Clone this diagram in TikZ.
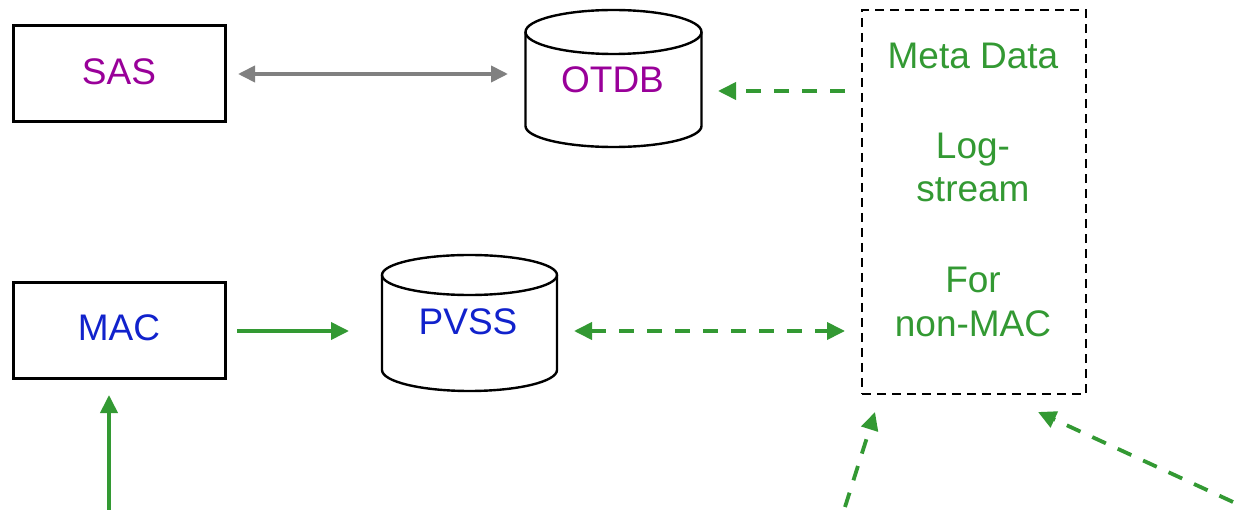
\documentclass[tikz,border=0pt]{standalone}
\usepackage{fontspec}
\setmainfont{Liberation Sans}
\usetikzlibrary{arrows.meta}
\definecolor{gr}{RGB}{51,153,51}
\definecolor{pu}{RGB}{153,0,153}
\definecolor{bl}{RGB}{17,34,204}
\definecolor{gy}{RGB}{128,128,128}
\begin{document}
\begin{tikzpicture}[x=1pt,y=-1pt,
  gtip/.tip={Triangle[length=18pt,width=17pt]},
  ytip/.tip={Triangle[length=17pt,width=16pt]},
  lbl/.style={font=\fontsize{37}{44}\selectfont, anchor=base, inner sep=0pt},
  box/.style={draw=black, line width=3pt, minimum width=212pt, minimum height=96pt, inner sep=0pt},
  cyl/.style={draw=black, line width=2.4pt},
  metabox/.style={draw=black, line width=2.8pt, dash pattern=on 9pt off 6pt, minimum width=224pt, minimum height=384pt, inner sep=0pt},
  garrow/.style={draw=gr, line width=3.8pt, -{gtip}},
  gdash/.style={garrow, dash pattern=on 15pt off 13pt},
  gyarrow/.style={draw=gy, line width=3.8pt, {ytip}-{ytip}}
]
\useasboundingbox (0,0) rectangle (1234,510);
% boxes
\node[box] (sas) at (119,74) {};
\node[lbl, text=pu] (sasT) at (119,85) {SAS};
\node[box] (mac) at (119,331) {};
\node[lbl, text=bl] (macT) at (119,341) {MAC};
% OTDB cylinder
\draw[cyl] (525.5,32) -- (525.5,126) .. controls (525.5,137.6) and (564.9,147) .. (613.5,147) .. controls (662.1,147) and (701.5,137.6) .. (701.5,126) -- (701.5,32);
\draw[cyl] (613.5,32) ellipse [x radius=88, y radius=22];
\node[lbl, text=pu] (otdb) at (612.5,93) {OTDB};
% PVSS cylinder
\draw[cyl] (382,275) -- (382,370) .. controls (382,381.6) and (421.2,391) .. (469.5,391) .. controls (517.8,391) and (557,381.6) .. (557,370) -- (557,275);
\draw[cyl] (469.5,275) ellipse [x radius=87.5, y radius=20];
\node[lbl, text=bl] (pvss) at (468,335) {PVSS};
% meta data box
\node[metabox] (meta) at (974,202) {};
\node[lbl, text=gr] (m1) at (973,69) {Meta Data};
\node[lbl, text=gr] (m2) at (973,159) {Log-};
\node[lbl, text=gr] (m3) at (973,202) {stream};
\node[lbl, text=gr] (m4) at (973,293) {For};
\node[lbl, text=gr] (m5) at (973,337) {non-MAC};
% connector end points
\coordinate (sasR) at (238,74);
\coordinate (otdbL) at (508,74);
\coordinate (otdbR) at (718,91);
\coordinate (metaL1) at (845,91);
\coordinate (pvssR) at (574,331);
\coordinate (metaL2) at (845,331);
\coordinate (macR) at (237,331);
\coordinate (pvssL) at (349,331);
\coordinate (macB) at (109,395);
\coordinate (inMac) at (109,510);
\coordinate (metaBL) at (875,412);
\coordinate (inA) at (845,507);
\coordinate (metaBR) at (1038,412);
\coordinate (inB) at (1233,502);
% connectors
\draw[gyarrow] (sasR) -- (otdbL);
\draw[gdash] (metaL1) -- (otdbR);
\draw[gdash, {gtip}-{gtip}] (pvssR) -- (metaL2);
\draw[garrow] (macR) -- (pvssL);
\draw[garrow] (inMac) -- (macB);
\draw[gdash] (inA) -- (metaBL);
\draw[gdash] (inB) -- (metaBR);
\end{tikzpicture}
\end{document}
